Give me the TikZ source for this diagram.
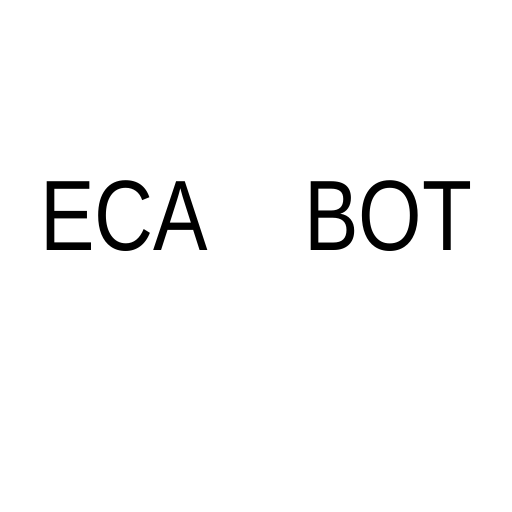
\documentclass[tikz,border=0pt]{standalone}
\usepackage{fontspec}
\setmainfont{Liberation Sans}
\begin{document}
\begin{tikzpicture}[x=1pt,y=1pt,
  word/.style={inner sep=0pt, outer sep=0pt, anchor=base west, xscale=0.817,
    font=\fontsize{100}{100}\selectfont, text=black}]
\useasboundingbox[fill=white] (0,0) rectangle (512,512);
\node[word] (eca) at (40.5,261) {ECA};
\node[word] (bot) at (304.5,261) {BOT};
\end{tikzpicture}
\end{document}
